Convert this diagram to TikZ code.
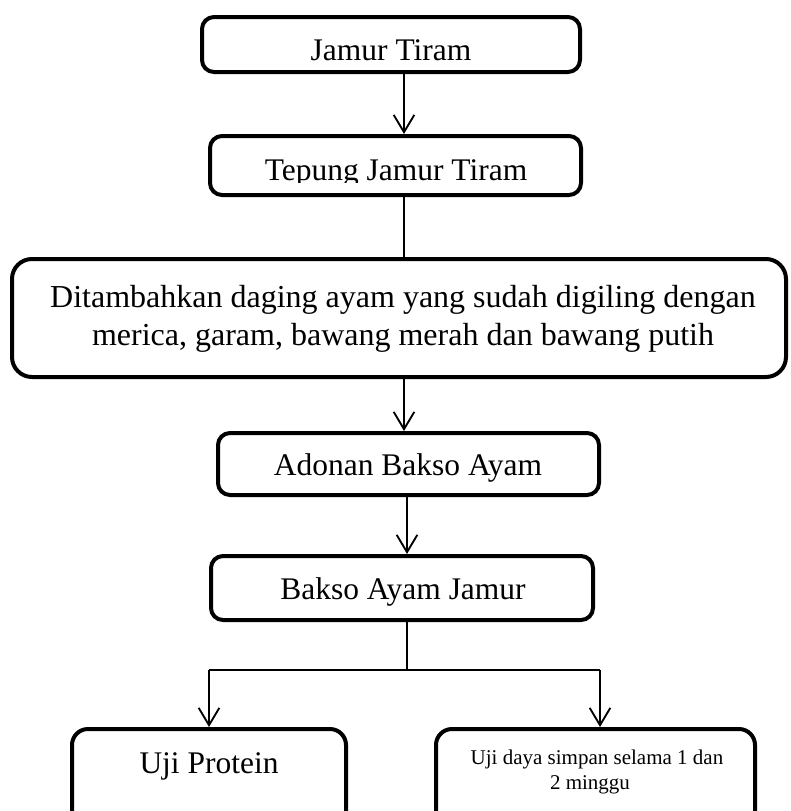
\documentclass[tikz,border=0pt]{standalone}
\usepackage{fontspec}
\setmainfont{Liberation Serif}
\usetikzlibrary{arrows.meta}
\begin{document}
\begin{tikzpicture}[x=0.75pt,y=-0.75pt,
  box/.style={draw, line width=3pt, rounded corners=9pt, inner sep=0pt},
  bigbox/.style={box, rounded corners=15pt},
  lowbox/.style={box, rounded corners=12pt},
  conn/.style={line width=1.4pt},
  thinconn/.style={line width=1pt},
  arr/.style={conn, -{Straight Barb[length=13pt,width=15.5pt,line width=1.4pt]}},
  lbl/.style={inner sep=0pt, anchor=base, font=\fontsize{23.6}{27}\selectfont},
  biglbl/.style={inner sep=0pt, anchor=base, font=\fontsize{24}{28}\selectfont},
  smalllbl/.style={inner sep=0pt, anchor=base, font=\fontsize{15.75}{18}\selectfont}]
\useasboundingbox (0,0) rectangle (790,811);
\clip (0,0) rectangle (790,811);
\fill[white] (0,0) rectangle (790,811);

% boxes
\node[box, minimum width=283.5pt, minimum height=41.25pt] (b1) at (391,44.5) {};
\node[box, minimum width=278.25pt, minimum height=44.25pt] (b2) at (395.5,165.5) {};
\node[bigbox, minimum width=580.5pt, minimum height=88.5pt] (b3) at (399,318) {};
\node[box, minimum width=285.75pt, minimum height=46.5pt] (b4) at (408.5,464) {};
\node[box, minimum width=286.5pt, minimum height=48pt] (b5) at (402,588) {};
\node[lowbox, minimum width=205.5pt, minimum height=90.75pt] (b6) at (209,789.5) {};
\node[lowbox, minimum width=239.25pt, minimum height=90.75pt] (b7) at (595.5,789.5) {};

% texts
\node[lbl] (t1) at (391,60) {Jamur Tiram};
\begin{scope}
  \clip (200,130) rectangle (590,182);
  \node[lbl] (t2) at (396,180) {Tepung Jamur Tiram};
\end{scope}
\node[biglbl] (t3a) at (403,307) {Ditambahkan daging ayam yang sudah digiling dengan};
\node[biglbl] (t3b) at (403,345) {merica, garam, bawang merah dan bawang putih};
\node[lbl] (t4) at (408,475) {Adonan Bakso Ayam};
\node[lbl] (t5) at (403,599) {Bakso Ayam Jamur};
\node[lbl] (t6) at (209,773) {Uji Protein};
\node[smalllbl] (t7a) at (597,764) {Uji daya simpan selama 1 dan};
\node[smalllbl] (t7b) at (590,789) {2 minggu};

% connectors
\coordinate (ax) at (404,0);
\coordinate (bx) at (407,0);
\coordinate (split) at (407,670);
\coordinate (sl) at (209,670);
\coordinate (sr) at (600,670);
\draw[arr] (b1.south -| ax) -- (b2.north -| ax);
\draw[thinconn] (b2.south -| ax) -- (b3.north -| ax);
\draw[arr] (b3.south -| ax) -- (b4.north -| ax);
\draw[arr] (b4.south -| bx) -- (b5.north -| bx);
\draw[conn] (b5.south -| bx) -- (split);
\draw[conn] (sl) -- (sr);
\draw[arr] (sl) -- (b6.north -| sl);
\draw[arr] (sr) -- (b7.north -| sr);
\end{tikzpicture}
\end{document}
